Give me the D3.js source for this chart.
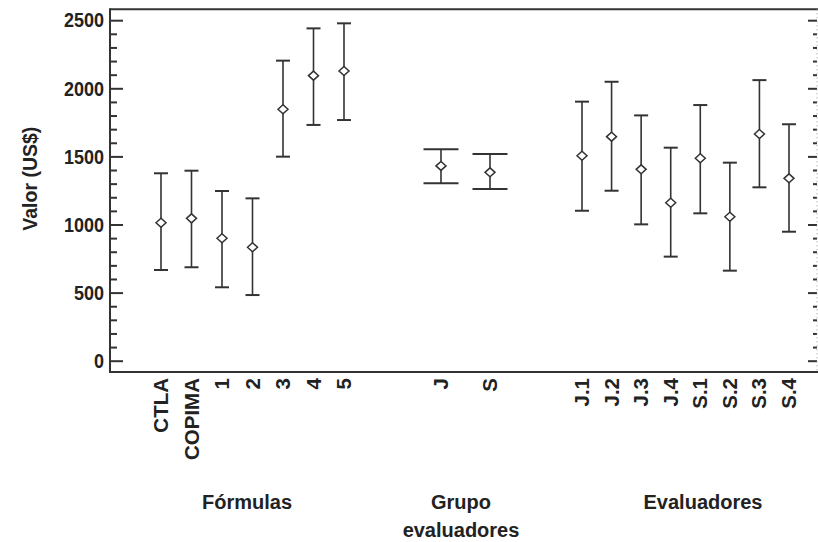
<!DOCTYPE html>
<html>
<head>
<meta charset="utf-8">
<script src="https://cdn.jsdelivr.net/npm/d3@7/dist/d3.min.js"></script>
<style>
  html, body { margin: 0; padding: 0; background: #fff; }
  svg text { font-family: "Liberation Sans", Arial, sans-serif; fill: #222; }
</style>
</head>
<body>
<svg id="chart" width="818" height="542"></svg>
<script>
// ---- Data ----
const formulaCats = ["CTLA", "COPIMA", "1", "2", "3", "4", "5"];
const formulaMean = [1013, 1045, 899, 833, 1846, 2093, 2127];
const formulaLow  = [666, 686, 539, 482, 1498, 1731, 1767];
const formulaHigh = [1376, 1395, 1246, 1192, 2203, 2440, 2477];

const grupoCats = ["J", "S"];
const grupoMean = [1430, 1383];
const grupoLow  = [1302, 1261];
const grupoHigh = [1552, 1518];

const evalCats = ["J.1", "J.2", "J.3", "J.4", "S.1", "S.2", "S.3", "S.4"];
const evalMean = [1505, 1645, 1405, 1160, 1486, 1057, 1664, 1339];
const evalLow  = [1101, 1248, 1001, 764, 1082, 661, 1273, 947];
const evalHigh = [1902, 2048, 1801, 1564, 1877, 1454, 2060, 1736];

const groupTitles = [["Fórmulas"], ["Grupo", "evaluadores"], ["Evaluadores"]];
const yMajorTicks = [0, 500, 1000, 1500, 2000, 2500];
const yTitle = "Valor (US$)";

// ---- Layout ----
const svg = d3.select("#chart");
const pL = 110, pR = 817, pT = 9.3, pB = 372;
const ink = "#333";

const y = d3.scaleLinear().domain([-83, 2580]).range([pB, pT]);

const groups = [
  { cats: formulaCats, mean: formulaMean, low: formulaLow, high: formulaHigh, range: [161, 344], cap: 14, titleX: 247 },
  { cats: grupoCats, mean: grupoMean, low: grupoLow, high: grupoHigh, range: [441, 490], cap: 35, titleX: 461 },
  { cats: evalCats, mean: evalMean, low: evalLow, high: evalHigh, range: [582, 789], cap: 14, titleX: 703 }
];

// Frame: top and bottom lines
svg.append("line").attr("x1", pL).attr("x2", 818).attr("y1", pT).attr("y2", pT)
  .attr("stroke", ink).attr("stroke-width", 2);
svg.append("line").attr("x1", pL).attr("x2", 818).attr("y1", pB).attr("y2", pB)
  .attr("stroke", ink).attr("stroke-width", 2);

// Left axis with major + minor inward ticks
const minorTicks = d3.range(0, 2501, 100).filter(v => v % 500 !== 0);
const gl = svg.append("g").attr("transform", `translate(${pL},0)`);
gl.call(d3.axisRight(y).tickValues(yMajorTicks).tickSize(13).tickFormat(""));
gl.append("g").call(d3.axisRight(y).tickValues(minorTicks).tickSize(7).tickFormat(""));
gl.selectAll(".domain").remove();
gl.selectAll("line").attr("stroke", ink).attr("stroke-width", 2);
svg.append("line").attr("x1", pL).attr("x2", pL).attr("y1", pT - 1).attr("y2", pB + 1)
  .attr("stroke", ink).attr("stroke-width", 2);

// Y tick labels (slightly tall, as in the reference)
svg.append("g").selectAll("text").data(yMajorTicks).join("text")
  .attr("transform", d => `translate(${pL - 6},${y(d)}) scale(1,1.12)`)
  .attr("dy", "0.36em")
  .attr("text-anchor", "end").attr("font-size", 18).attr("font-weight", "bold")
  .text(d => d);

// Right axis (light, dotted) with inward ticks
const gr = svg.append("g").attr("transform", `translate(${pR},0)`);
gr.call(d3.axisLeft(y).tickValues(yMajorTicks).tickSize(9).tickFormat(""));
gr.append("g").call(d3.axisLeft(y).tickValues(minorTicks).tickSize(4).tickFormat(""));
gr.selectAll(".domain").remove();
gr.selectAll("line").attr("stroke", ink).attr("stroke-width", 2);
svg.append("line").attr("x1", pR).attr("x2", pR).attr("y1", pT).attr("y2", pB)
  .attr("stroke", "#999").attr("stroke-width", 1).attr("stroke-dasharray", "1,3");

// Y title
svg.append("text")
  .attr("transform", `translate(37,${(pT + pB) / 2 - 12}) rotate(-90)`)
  .attr("text-anchor", "middle").attr("font-size", 19.5).attr("font-weight", "bold")
  .text(yTitle);

// Groups
groups.forEach((g, gi) => {
  const x = d3.scalePoint().domain(g.cats).range(g.range).padding(0);
  const rows = g.cats.map((c, i) => ({ c, m: g.mean[i], lo: g.low[i], hi: g.high[i] }));
  const gg = svg.append("g");
  const bar = gg.selectAll("g").data(rows).join("g");
  bar.append("line")
    .attr("x1", d => x(d.c)).attr("x2", d => x(d.c))
    .attr("y1", d => y(d.lo)).attr("y2", d => y(d.hi))
    .attr("stroke", ink).attr("stroke-width", 1.6);
  ["lo", "hi"].forEach(k => {
    bar.append("line")
      .attr("x1", d => x(d.c) - g.cap / 2).attr("x2", d => x(d.c) + g.cap / 2)
      .attr("y1", d => y(d[k])).attr("y2", d => y(d[k]))
      .attr("stroke", ink).attr("stroke-width", 2);
  });
  bar.append("path")
    .attr("d", d => {
      const cx = x(d.c), cy = y(d.m), w = 5, h = 4.5;
      return `M${cx - w},${cy} L${cx},${cy - h} L${cx + w},${cy} L${cx},${cy + h} Z`;
    })
    .attr("fill", "#fff").attr("stroke", ink).attr("stroke-width", 1.5);

  // category labels (rotated)
  gg.selectAll("text.cat").data(g.cats).join("text").attr("class", "cat")
    .attr("transform", d => `translate(${x(d) + 7},${pB + 6}) rotate(-90)`)
    .attr("text-anchor", "end").attr("font-size", 20.5).attr("font-weight", "bold")
    .text(d => d);

  // group title
  const t = svg.append("text").attr("text-anchor", "middle").attr("font-size", 20)
    .attr("font-weight", "bold").attr("x", g.titleX).attr("y", 509);
  groupTitles[gi].forEach((line, li) => {
    t.append("tspan").attr("x", g.titleX).attr("dy", li === 0 ? 0 : 28).text(line);
  });
});
</script>
</body>
</html>
